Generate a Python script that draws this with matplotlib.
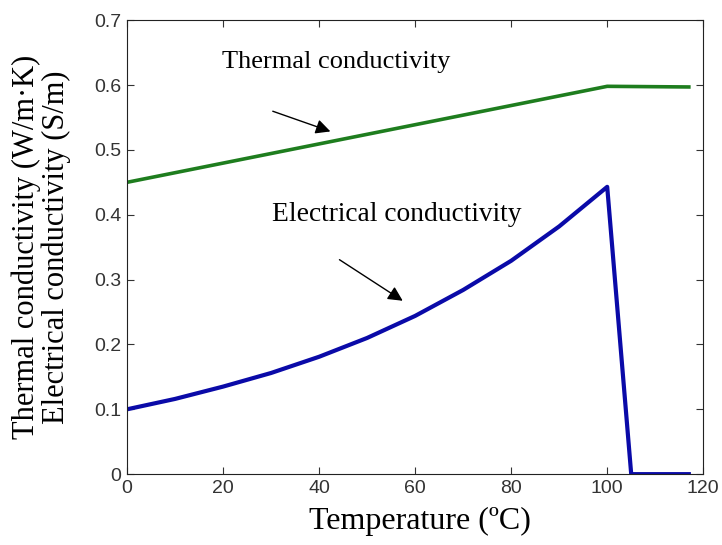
import matplotlib.pyplot as plt

# temperature (degC) and conductivities
temp_elec = [0, 10, 20, 30, 40, 50, 60, 70, 80, 90, 100, 105, 117]
sigma_elec = [0.100, 0.116, 0.135, 0.156, 0.181, 0.210, 0.244, 0.284, 0.329, 0.382, 0.443, 0.0, 0.0]

temp_therm = [0, 100, 117]
k_therm = [0.450, 0.598, 0.597]

xticks = [0, 20, 40, 60, 80, 100, 120]
yticks = [0, 0.1, 0.2, 0.3, 0.4, 0.5, 0.6, 0.7]

fig = plt.figure(figsize=(7.22, 5.45), dpi=100)
ax = fig.add_axes([0.176, 0.130, 0.798, 0.833])

ax.plot(temp_therm, k_therm, color='#1e7d1e', linewidth=2.6)
ax.plot(temp_elec, sigma_elec, color='#0a0aa8', linewidth=3.0)

ax.set_xlim(0, 120)
ax.set_ylim(0, 0.7)
ax.set_xticks(xticks)
ax.set_yticks(yticks)
ax.set_xticklabels([str(t) for t in xticks])
ax.set_yticklabels(['0', '0.1', '0.2', '0.3', '0.4', '0.5', '0.6', '0.7'])
ax.tick_params(direction='in', length=5, top=True, right=True, pad=4,
               labelsize=14, labelcolor='#333333', colors='#333333')
for lab in ax.get_xticklabels() + ax.get_yticklabels():
    lab.set_family('Liberation Sans')
for sp in ax.spines.values():
    sp.set_color('#222222')

serif = 'Liberation Serif'
ax.set_xlabel('Temperature (ºC)', fontsize=23, family=serif)
ax.xaxis.set_label_coords(0.508, -0.072)
ax.set_ylabel('Thermal conductivity (W/m·K)\nElectrical conductivity (S/m)',
              fontsize=22, family=serif, linespacing=1.05)
ax.yaxis.set_label_coords(-0.097, 0.5)

# annotations with arrows
ax.text(19.8, 0.635, 'Thermal conductivity', fontsize=19, family=serif, va='center')
ax.annotate('', xy=(42.9, 0.527), xytext=(29.8, 0.561),
            arrowprops=dict(arrowstyle='-|>', color='black', lw=1.0,
                            mutation_scale=22))
ax.text(30.2, 0.401, 'Electrical conductivity', fontsize=19.8, family=serif, va='center')
ax.annotate('', xy=(57.9, 0.265), xytext=(43.75, 0.333),
            arrowprops=dict(arrowstyle='-|>', color='black', lw=1.0,
                            mutation_scale=22))

fig.savefig('out.png', dpi=100)
plt.close(fig)
